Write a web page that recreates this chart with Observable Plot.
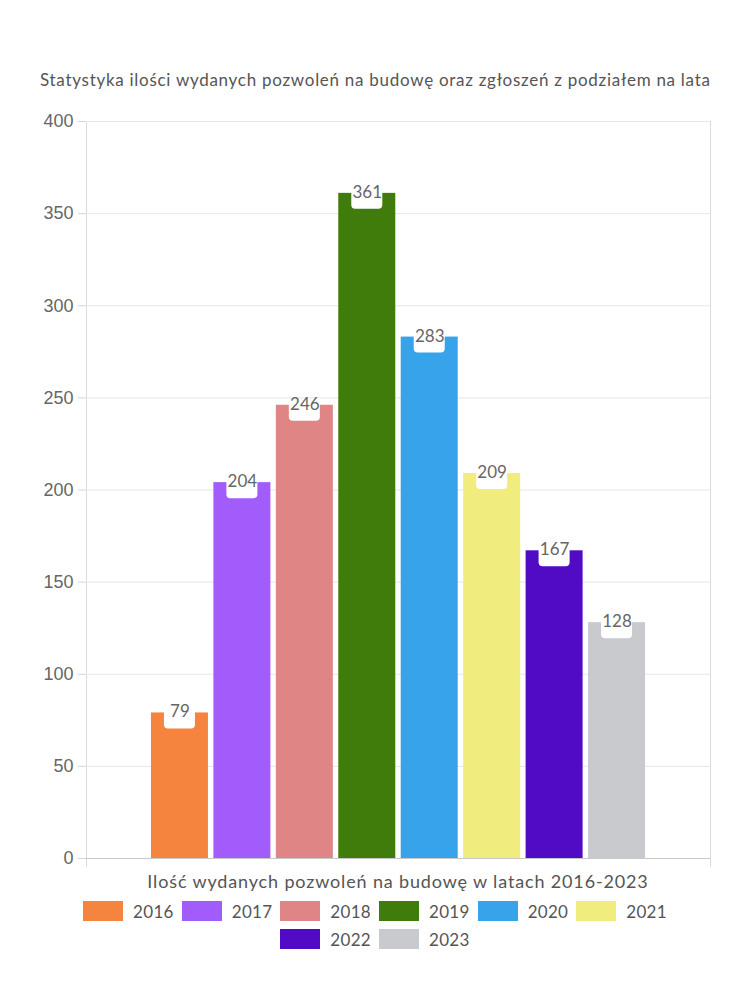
<!DOCTYPE html>
<html>
<head>
<meta charset="utf-8">
<script src="https://cdn.jsdelivr.net/npm/d3@7"></script>
<script src="https://cdn.jsdelivr.net/npm/@observablehq/plot@0.6"></script>
<style>
  html, body { margin: 0; padding: 0; background: #fff; }
  body { width: 750px; font-family: Lato, "Noto Sans", sans-serif; color: #555; }
  #title { height: 100px; box-sizing: border-box; padding-top: 69px; padding-left: 40px; font-size: 17px; letter-spacing: 0.72px; line-height: 22px; color: #555; white-space: nowrap; }
  #chart svg { display: block; }
  #xlabel { width: 750px; padding-left: 46px; box-sizing: border-box; text-align: center; font-size: 18px; letter-spacing: 0.85px; line-height: 22px; height: 22px; color: #555; }
  #legend { display: flex; flex-wrap: wrap; justify-content: center; width: 640px; margin-left: 55px; margin-top: 9px; row-gap: 8px; }
  .item { display: flex; align-items: center; margin: 0 4px; height: 20px; }
  .sw { width: 40px; height: 20px; margin-right: 10px; }
  .lab { font-size: 17px; letter-spacing: 0.3px; color: #555; }
</style>
</head>
<body>
<div id="title">Statystyka ilości wydanych pozwoleń na budowę oraz zgłoszeń z podziałem na lata</div>
<div id="chart"></div>
<div id="xlabel">Ilość wydanych pozwoleń na budowę w latach 2016-2023</div>
<div id="legend"></div>
<script>
const years = ["2016", "2017", "2018", "2019", "2020", "2021", "2022", "2023"];
const values = [79, 204, 246, 361, 283, 209, 167, 128];
const colors = ["#F5843F", "#A25CFC", "#E08585", "#3F7C0C", "#37A3EA", "#F0EC7D", "#520BC4", "#C9CACE"];
const yTicks = [0, 50, 100, 150, 200, 250, 300, 350, 400];

const data = years.map((year, i) => ({year, value: values[i]}));

const marks = [
  Plot.gridY(yTicks, {stroke: "#e6e6e6", strokeOpacity: 1}),
  Plot.axisY(yTicks, {tickSize: 8, tickPadding: 5, stroke: "#d6d6d6", color: "#666", fontSize: 18, fontFamily: "'Liberation Sans', Arial, sans-serif", label: null}),
  Plot.barY(data, {x: "year", y: "value", fill: "year"}),
  Plot.barY(data, {x: "year", y1: "value", y2: "value", fill: "white", insetLeft: 13, insetRight: 13, insetTop: -5, insetBottom: -16, rx: 4}),
  Plot.text(data, {x: "year", y: "value", text: d => String(d.value), fill: "#666", fontSize: 17, dy: -1, fontFamily: "Lato, 'Noto Sans', sans-serif"}),
  Plot.ruleY([0], {stroke: "#c8c8c8"})
];
let frameMarks;
try {
  frameMarks = [
    Plot.frame({anchor: "left", stroke: "#dcdcdc", strokeOpacity: 1, insetBottom: -8}),
    Plot.frame({anchor: "right", stroke: "#dcdcdc", strokeOpacity: 1, insetBottom: -8})
  ];
} catch (e) {
  frameMarks = [Plot.frame({stroke: "#dcdcdc", strokeOpacity: 1})];
}

const chart = Plot.plot({
  width: 750,
  height: 770,
  marginLeft: 86,
  marginRight: 40,
  marginTop: 21,
  marginBottom: 12,
  style: {fontFamily: "Lato, 'Noto Sans', sans-serif", background: "white"},
  x: {type: "band", domain: years, paddingInner: 0.087, paddingOuter: 1.04, round: false, axis: null},
  y: {domain: [0, 400], axis: null},
  color: {domain: years, range: colors},
  marks: [...frameMarks, ...marks]
});
document.getElementById("chart").appendChild(chart);

const legend = document.getElementById("legend");
years.forEach((y, i) => {
  const item = document.createElement("div");
  item.className = "item";
  const sw = document.createElement("div");
  sw.className = "sw";
  sw.style.background = colors[i];
  const lab = document.createElement("span");
  lab.className = "lab";
  lab.textContent = y;
  item.appendChild(sw);
  item.appendChild(lab);
  legend.appendChild(item);
});
</script>
</body>
</html>
